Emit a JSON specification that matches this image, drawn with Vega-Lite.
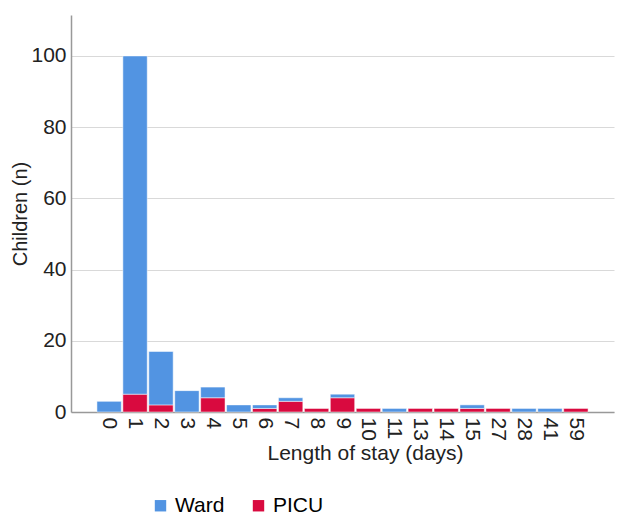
{
  "$schema": "https://vega.github.io/schema/vega-lite/v6.json",
  "width": 543,
  "height": 397,
  "padding": {"left": 10, "top": 15, "right": 2, "bottom": 2},
  "background": "white",
  "config": {
    "view": {"stroke": null},
    "font": "Liberation Sans",
    "axis": {"labelFont": "Liberation Sans", "titleFont": "Liberation Sans", "labelColor": "#222", "titleColor": "#222", "titleFontWeight": "normal"},
    "legend": {"labelFont": "Liberation Sans"}
  },
  "data": {
    "values": [
      {"days": 0, "unit": "Ward", "n": 3},
      {"days": 1, "unit": "PICU", "n": 5},
      {"days": 1, "unit": "Ward", "n": 95},
      {"days": 2, "unit": "PICU", "n": 2},
      {"days": 2, "unit": "Ward", "n": 15},
      {"days": 3, "unit": "Ward", "n": 6},
      {"days": 4, "unit": "PICU", "n": 4},
      {"days": 4, "unit": "Ward", "n": 3},
      {"days": 5, "unit": "Ward", "n": 2},
      {"days": 6, "unit": "PICU", "n": 1},
      {"days": 6, "unit": "Ward", "n": 1},
      {"days": 7, "unit": "PICU", "n": 3},
      {"days": 7, "unit": "Ward", "n": 1},
      {"days": 8, "unit": "PICU", "n": 1},
      {"days": 9, "unit": "PICU", "n": 4},
      {"days": 9, "unit": "Ward", "n": 1},
      {"days": 10, "unit": "PICU", "n": 1},
      {"days": 11, "unit": "Ward", "n": 1},
      {"days": 13, "unit": "PICU", "n": 1},
      {"days": 14, "unit": "PICU", "n": 1},
      {"days": 15, "unit": "PICU", "n": 1},
      {"days": 15, "unit": "Ward", "n": 1},
      {"days": 27, "unit": "PICU", "n": 1},
      {"days": 28, "unit": "Ward", "n": 1},
      {"days": 41, "unit": "Ward", "n": 1},
      {"days": 59, "unit": "PICU", "n": 1}
    ]
  },
  "mark": {"type": "bar", "stroke": "white", "strokeWidth": 0.5},
  "encoding": {
    "x": {
      "field": "days",
      "type": "ordinal",
      "sort": [0,1,2,3,4,5,6,7,8,9,10,11,13,14,15,27,28,41,59],
      "scale": {"paddingInner": 0.06, "paddingOuter": 1.05},
      "axis": {
        "title": "Length of stay (days)",
        "titleFontSize": 21,
        "titlePadding": 2,
        "titleX": 294,
        "labelAngle": 90,
        "labelAlign": "left",
        "labelBaseline": "middle",
        "labelFontSize": 21,
        "labelPadding": 5,
        "ticks": false,
        "domainColor": "#999",
        "domainWidth": 1.5
      }
    },
    "y": {
      "field": "n",
      "type": "quantitative",
      "aggregate": "sum",
      "stack": "zero",
      "scale": {"domain": [0, 111.5], "nice": false},
      "axis": {
        "title": "Children (n)",
        "titleFontSize": 20,
        "titlePadding": 0,
        "values": [0, 20, 40, 60, 80, 100],
        "labelFontSize": 21,
        "labelPadding": 5,
        "ticks": false,
        "gridColor": "#d9d9d9",
        "domainColor": "#999",
        "domainWidth": 1.5
      }
    },
    "color": {
      "field": "unit",
      "type": "nominal",
      "scale": {"domain": ["Ward", "PICU"], "range": ["#5294e2", "#d90a3f"]},
      "legend": {
        "title": null,
        "orient": "none",
        "legendX": 79,
        "legendY": 480,
        "direction": "horizontal",
        "labelFontSize": 21,
        "labelOffset": 4,
        "symbolType": "square",
        "symbolSize": 130,
        "symbolStrokeWidth": 0,
        "columnPadding": 23
      }
    },
    "order": {"field": "unit", "sort": "ascending"}
  }
}
